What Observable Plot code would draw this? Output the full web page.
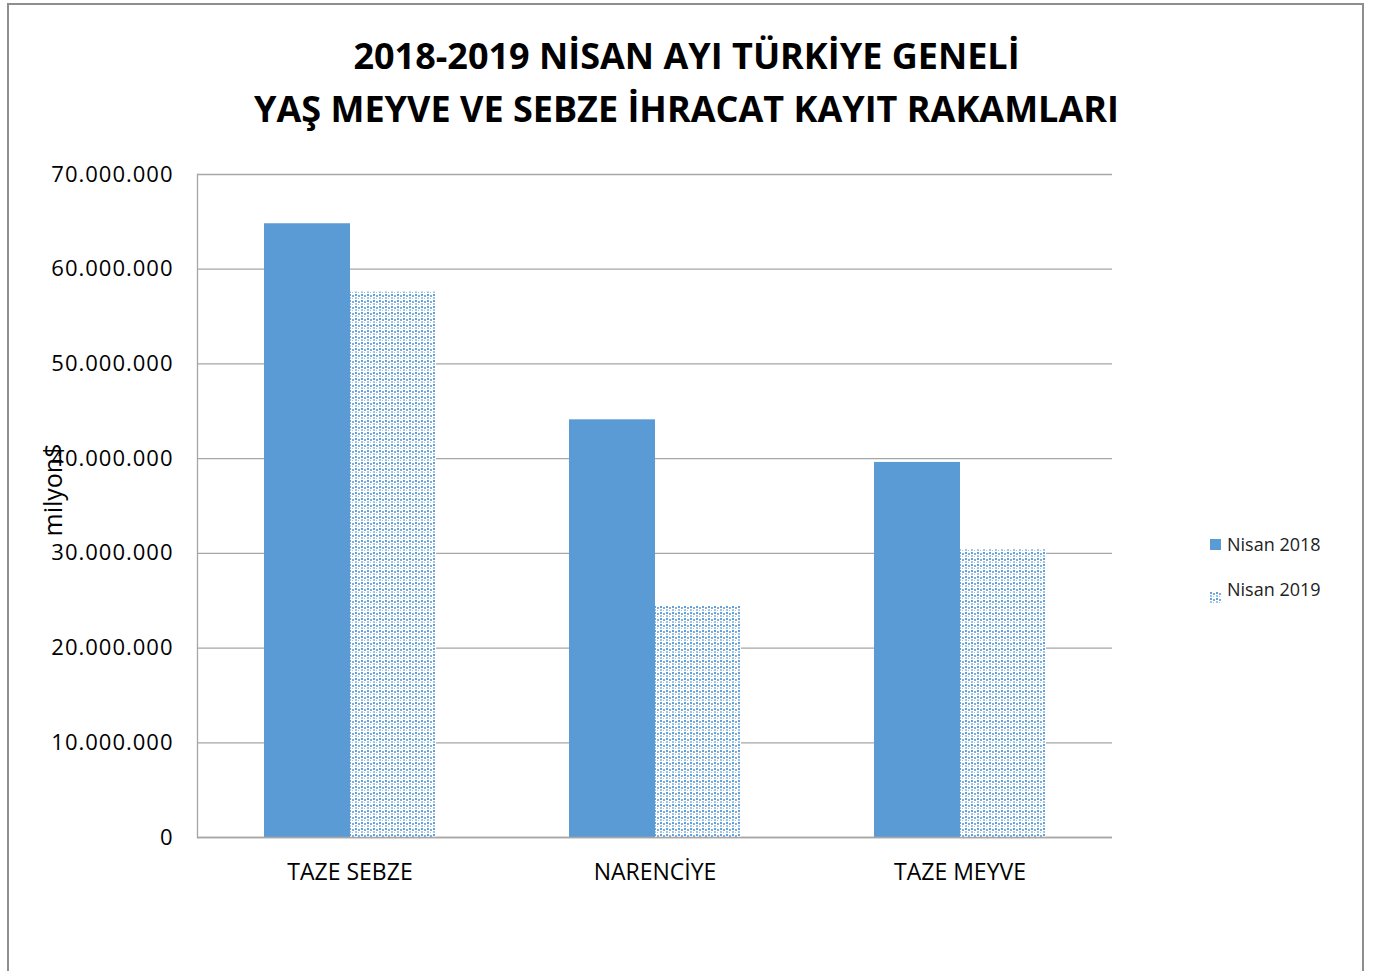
<!DOCTYPE html>
<html>
<head>
<meta charset="utf-8">
<script src="https://cdn.jsdelivr.net/npm/d3@7"></script>
<script src="https://cdn.jsdelivr.net/npm/@observablehq/plot@0.6"></script>
<style>
  body { margin: 0; background: #fff; font-family: "Open Sans", "Noto Sans", sans-serif; }
  #wrap { position: relative; width: 1373px; height: 971px; overflow: hidden; }
  #frame { position: absolute; left: 7px; top: 3px; width: 1357px; height: 980px; border: 2px solid #8e8e8e; box-sizing: border-box; }
  #title { position: absolute; left: 0; width: 1373px; top: 29px; text-align: center; font-weight: 700; font-size: 36px; line-height: 53px; color: #000; }
  #chart { position: absolute; left: 0; top: 150px; }
  #legend { position: absolute; left: 1210px; top: 532px; font-size: 18px; color: #222; }
  .li { display: flex; align-items: center; height: 24px; margin-bottom: 21px; }
  .sw { width: 11px; height: 11px; margin-right: 6px; }
  #ylab { position: absolute; left: 52px; top: 490px; transform: translate(-50%, -50%) rotate(-90deg); font-size: 25px; color: #000; white-space: nowrap; }
</style>
</head>
<body>
<div id="wrap">
  <div id="frame"></div>
  <div id="title">2018-2019 NİSAN AYI TÜRKİYE GENELİ<br>YAŞ MEYVE VE SEBZE İHRACAT KAYIT RAKAMLARI</div>
  <div id="chart"></div>
  <div id="ylab">milyon$</div>
  <div id="legend"></div>
</div>
<script>
const categories = ["TAZE SEBZE", "NARENCİYE", "TAZE MEYVE"];
const seriesNames = ["Nisan 2018", "Nisan 2019"];
const values2018 = [64800000, 44100000, 39600000];
const values2019 = [57600000, 24500000, 30400000];
const yTicks = [0, 10000000, 20000000, 30000000, 40000000, 50000000, 60000000, 70000000];

const data = [];
categories.forEach((c, i) => {
  data.push({cat: c, series: seriesNames[0], value: values2018[i]});
  data.push({cat: c, series: seriesNames[1], value: values2019[i]});
});

const locale = d3.formatLocale({decimal: ",", thousands: ".", grouping: [3], currency: ["", "$"]});
const fmt = locale.format(",d");

const blue = "#5b9bd5";
const grid = "#a6a6a6";

const plot = Plot.plot({
  width: 1373,
  height: 821,
  marginLeft: 196,
  marginRight: 260,
  marginTop: 24,
  marginBottom: 134,
  style: {fontFamily: "Open Sans, Noto Sans, sans-serif", fontSize: "22px", color: "#000", background: "transparent"},
  fx: {domain: categories, padding: 0, label: null},
  x: {domain: seriesNames, paddingInner: 0, paddingOuter: 0.757, axis: null},
  y: {domain: [0, 70000000], label: null},
  marks: [
    Plot.gridY(yTicks, {stroke: grid, strokeOpacity: 1, strokeWidth: 1.3}),
    Plot.barY(data, {
      fx: "cat", x: "series", y: "value",
      fill: d => d.series === seriesNames[0] ? blue : "url(#dots2019)"
    }),
    Plot.ruleY([0], {stroke: grid, strokeWidth: 1.3}),
    Plot.frame({anchor: "left", facetAnchor: "left", stroke: grid, strokeWidth: 1.3}),
    Plot.axisY({ticks: yTicks, tickFormat: fmt, tickSize: 0, tickPadding: 24, fontSize: 22}),
    Plot.axisFx({anchor: "bottom", tickSize: 0, tickPadding: 26, fontSize: 23, label: null})
  ]
});

// pattern for the 2019 series
const svgNS = "http://www.w3.org/2000/svg";
const defs = document.createElementNS(svgNS, "defs");
defs.innerHTML = `
<pattern id="dots2019" patternUnits="userSpaceOnUse" width="6" height="6">
  <rect width="6" height="6" fill="#ffffff"/>
  <rect x="0" y="0" width="2" height="2" fill="${blue}" opacity="0.95"/>
  <rect x="0" y="3" width="2" height="2" fill="${blue}" opacity="0.6"/>
  <rect x="3" y="1" width="2" height="2" fill="${blue}" opacity="0.8"/>
  <rect x="3" y="4" width="1" height="1" fill="${blue}" opacity="0.6"/>
</pattern>`;
plot.insertBefore(defs, plot.firstChild);
plot.querySelectorAll('[aria-label="y-axis tick label"] text').forEach(t => t.style.letterSpacing = "1px");
document.getElementById("chart").appendChild(plot);

// legend
const legend = document.getElementById("legend");
seriesNames.forEach((s, i) => {
  const row = document.createElement("div");
  row.className = "li";
  const sw = document.createElement("div");
  sw.className = "sw";
  if (i === 0) sw.style.background = blue;
  else sw.innerHTML = `<svg width="11" height="11"><rect width="11" height="11" fill="url(#dots2019)"/></svg>`;
  const t = document.createElement("span");
  t.textContent = s;
  row.appendChild(sw);
  row.appendChild(t);
  legend.appendChild(row);
});
</script>
</body>
</html>
